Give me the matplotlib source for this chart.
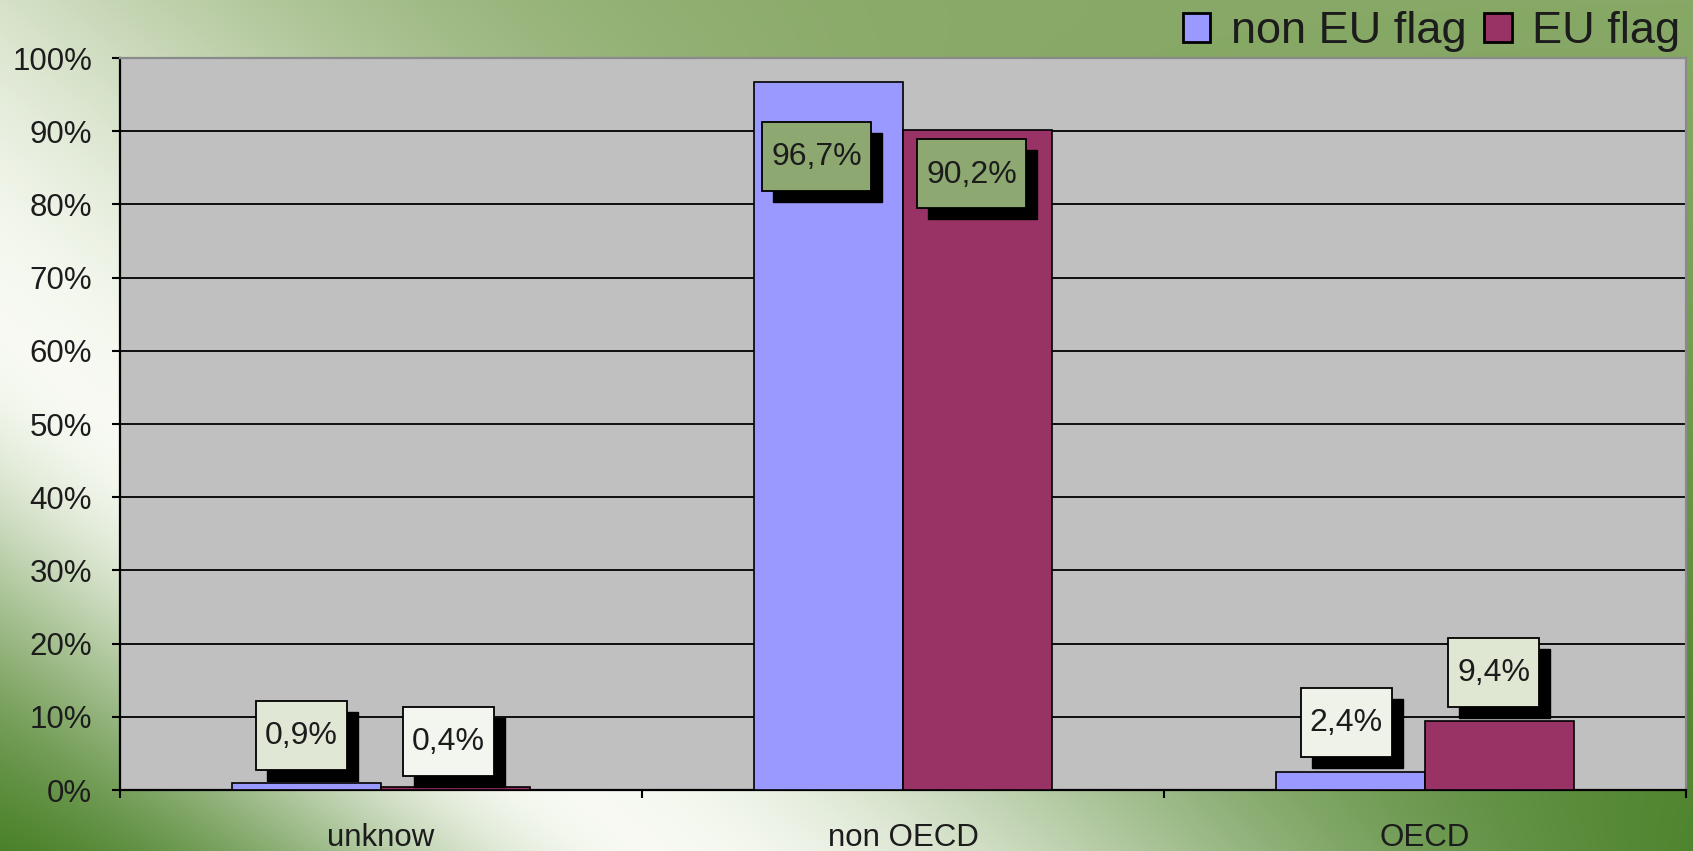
import numpy as np
import matplotlib
matplotlib.use("Agg")
import matplotlib.pyplot as plt
from matplotlib.patches import Rectangle, Patch
import matplotlib.transforms as mtransforms

# ---------------- data ----------------
categories = ["unknow", "non OECD", "OECD"]
non_eu_flag = [0.9, 96.7, 2.4]
eu_flag = [0.4, 90.2, 9.4]
series_names = ["non EU flag", "EU flag"]
y_ticks = list(range(0, 101, 10))
y_tick_labels = [f"{t}%" for t in y_ticks]

# ---------------- styles / positions ----------------
W, H, DPI = 1693, 851, 100
plt.rcParams["font.family"] = ["Liberation Sans", "DejaVu Sans"]
col_non_eu = "#9999ff"
col_eu = "#993366"
text_col = "#1c1c1c"
# label offsets in pixels from bar top (dx, dy)
off_non_eu = [(-5, 48), (-12, -74), (-4, 50)]
off_eu = [(-7, 46), (-6, -44), (-6, 49)]
box_non_eu = ["#e0e8d5", "#8ea872", "#eef2e8"]
box_eu = ["#f3f5ef", "#8ea872", "#dfe7d3"]

fig = plt.figure(figsize=(W / DPI, H / DPI), dpi=DPI)

# ---------------- background gradient ----------------
bg = fig.add_axes([0, 0, 1, 1], zorder=-10)
yy, xx = np.mgrid[0:H, 0:W].astype(float)
p0 = np.array([0.0, 330.0])
p1 = np.array([650.0, 851.0])
dvec = p1 - p0
nvec = np.array([dvec[1], -dvec[0]]) / np.hypot(*dvec)
d = (xx - p0[0]) * nvec[0] + (yy - p0[1]) * nvec[1]
sigma = np.where(d > 0, 430.0, 250.0)
f = 1 - np.exp(-(d / sigma) ** 2)
white = np.array([0.97, 0.98, 0.95])
mid = np.array([0.53, 0.66, 0.40])
dark = np.array([0.24, 0.47, 0.10])
t = np.clip(yy / H, 0, 1) ** 1.5
green = mid[None, None, :] * (1 - t[..., None]) + dark[None, None, :] * t[..., None]
img = white[None, None, :] * (1 - f[..., None]) + green * f[..., None]
bg.imshow(np.clip(img, 0, 1), aspect="auto", extent=[0, 1, 0, 1], origin="upper")
bg.set_xlim(0, 1)
bg.set_ylim(0, 1)
bg.set_axis_off()

# ---------------- main axes ----------------
ax = fig.add_axes([120 / W, 1 - 790 / H, (1686 - 120) / W, (790 - 58) / H])
ax.set_facecolor("#c0c0c0")
x = np.arange(len(categories))
bw = 1 / 3.5  # gap width 150%

ax.bar(x - bw / 2, non_eu_flag, bw, color=col_non_eu, edgecolor="black", linewidth=1.2, zorder=3)
ax.bar(x + bw / 2, eu_flag, bw, color=col_eu, edgecolor="black", linewidth=1.2, zorder=3)

ax.set_xlim(-0.5, len(categories) - 0.5)
ax.set_ylim(0, 100)
ax.set_yticks(y_ticks)
ax.set_yticklabels(y_tick_labels, fontsize=22.5, color=text_col)
ax.tick_params(axis="y", direction="out", length=6, width=1.5, color="black", pad=14)

ax.set_xticks(np.arange(-0.5, len(categories), 1.0))
ax.set_xticklabels([])
ax.tick_params(axis="x", which="major", direction="out", length=6, width=1.5, color="black")
ax.set_xticks(x, minor=True)
ax.set_xticklabels(categories, minor=True, fontsize=22.5, color=text_col)
ax.tick_params(axis="x", which="minor", length=0, pad=24)

ax.yaxis.grid(True, color="black", linewidth=1.3)
ax.set_axisbelow(True)
for s in ["left", "bottom"]:
    ax.spines[s].set_color("black")
    ax.spines[s].set_linewidth(1.6)
for s in ["top", "right"]:
    ax.spines[s].set_color("#8a8a8a")
    ax.spines[s].set_linewidth(1.6)

# ---------------- data labels ----------------
labels = []
for xs, vals, offs, cols in [(x - bw / 2, non_eu_flag, off_non_eu, box_non_eu),
                             (x + bw / 2, eu_flag, off_eu, box_eu)]:
    for xc, v, (dx, dy), fc in zip(xs, vals, offs, cols):
        tr = mtransforms.Affine2D() + mtransforms.ScaledTranslation(xc, v, ax.transData)
        s = f"{v:.1f}%".replace(".", ",")
        txt = ax.text(dx, dy - 1, s, transform=tr, ha="center", va="center",
                      fontsize=23, color=text_col, zorder=7, clip_on=False)
        labels.append((txt, tr, dx, dy, fc))

fig.canvas.draw()
for txt, tr, dx, dy, fc in labels:
    ext = txt.get_window_extent()
    w = ext.width + 18
    h = 69
    shadow = Rectangle((dx - w / 2 + 11, dy - h / 2 - 11), w, h, transform=tr,
                       facecolor="black", edgecolor="black", zorder=5, clip_on=False)
    box = Rectangle((dx - w / 2, dy - h / 2), w, h, transform=tr,
                    facecolor=fc, edgecolor="black", linewidth=1.3, zorder=6, clip_on=False)
    ax.add_patch(shadow)
    ax.add_patch(box)

# ---------------- legend ----------------
handles = [Patch(facecolor=col_non_eu, edgecolor="black", linewidth=2),
           Patch(facecolor=col_eu, edgecolor="black", linewidth=2)]
fig.legend(handles, series_names, loc="center right", bbox_to_anchor=(1680 / W, 1 - 32 / H),
           ncol=2, frameon=False, fontsize=32.5, handlelength=0.6, handleheight=0.6,
           handletextpad=0.45, columnspacing=0.4, borderpad=0, borderaxespad=0,
           labelcolor=text_col)

fig.savefig("out.png", dpi=DPI)
